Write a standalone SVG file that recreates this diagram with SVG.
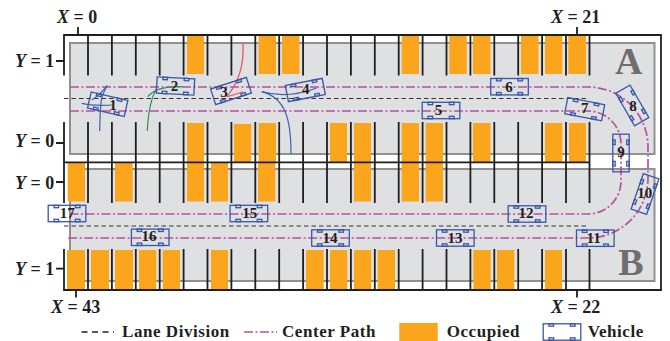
<svg xmlns="http://www.w3.org/2000/svg" width="670" height="341" viewBox="0 0 670 341">
<style>
text{font-family:"Liberation Serif","Times New Roman",serif;font-weight:bold;fill:#1f1f1f}
.lab{font-size:18px}
.lab tspan.i{font-style:italic}
.num{font-size:15px;text-anchor:middle}
.leg{font-size:17px;letter-spacing:.55px}
.big{font-size:38px;fill:#6e6e6e;text-anchor:middle}
.lot{fill:#dfe0e2;stroke:#909090;stroke-width:2}
.occ{fill:#fba51d}
.wall{fill:none;stroke:#1f1f1f;stroke-width:1.8}
.div{fill:none;stroke:#333;stroke-width:1.2;stroke-dasharray:4.500 3}
.ldiv{fill:none;stroke:#222;stroke-width:1.5;stroke-dasharray:6 4.500}
.cp{fill:none;stroke:#b9509f;stroke-width:1.7;stroke-dasharray:9 2.500 2 2.500}
.car{fill:none;stroke:#3a56a8;stroke-width:1.3}
.tr{fill:none;stroke-width:1.2}
</style>
<defs>
<g id="car">
<rect class="car" x="-18.800" y="-8.200" width="37.600" height="16.400"/>
<rect class="car" x="-13" y="-8.200" width="4.600" height="2.400"/>
<rect class="car" x="8.400" y="-8.200" width="4.600" height="2.400"/>
<rect class="car" x="-13" y="5.800" width="4.600" height="2.400"/>
<rect class="car" x="8.400" y="5.800" width="4.600" height="2.400"/>
</g>
</defs>
<g id="lots">
<rect class="lot" x="70" y="43" width="584.500" height="111"/>
<rect class="lot" x="70" y="169" width="584.500" height="112"/>
</g>
<g id="occupied" class="occ">
<rect x="187" y="35" width="17" height="39"/><rect x="258.500" y="35" width="17.500" height="39"/><rect x="282" y="35" width="17.500" height="39"/><rect x="401.700" y="35" width="17.300" height="39"/><rect x="449.300" y="35" width="17.500" height="39"/><rect x="473" y="35" width="17.500" height="39"/><rect x="521" y="35" width="17.500" height="39"/><rect x="545" y="35" width="17.300" height="39"/><rect x="568.300" y="35" width="17.700" height="39"/>
<rect x="187" y="123" width="17" height="39"/><rect x="234" y="124" width="17.300" height="38"/><rect x="258.500" y="123" width="17.500" height="39"/><rect x="330" y="123" width="17" height="39"/><rect x="354" y="123" width="17" height="39"/><rect x="401.700" y="123" width="17.300" height="39"/><rect x="425.700" y="123" width="17.300" height="39"/><rect x="473" y="123" width="17.500" height="39"/><rect x="545" y="123" width="17.300" height="39"/><rect x="569" y="123" width="17" height="39"/>
<rect x="67.700" y="162" width="17.300" height="39.500"/><rect x="115" y="162" width="17.700" height="39.500"/><rect x="187" y="162" width="17" height="39.500"/><rect x="211" y="162" width="17" height="39.500"/><rect x="258" y="162" width="17.300" height="39.500"/><rect x="354" y="162" width="17" height="39.500"/><rect x="401.700" y="162" width="17.300" height="39.500"/><rect x="425.700" y="162" width="17.300" height="39.500"/>
<rect x="67" y="250" width="18" height="39"/><rect x="91" y="250" width="18" height="39"/><rect x="115" y="250" width="18" height="39"/><rect x="139" y="250" width="17.300" height="39"/><rect x="162.700" y="250" width="17.300" height="39"/><rect x="211" y="250" width="17" height="39"/><rect x="306" y="250" width="17.700" height="39"/><rect x="330" y="250" width="17.300" height="39"/><rect x="354" y="250" width="17.300" height="39"/><rect x="377.700" y="250" width="17.300" height="39"/><rect x="473.300" y="250" width="17.400" height="39"/><rect x="497" y="250" width="17.300" height="39"/><rect x="545" y="250" width="17" height="39"/>
</g>
<g id="walls">
<path class="wall" d="M64 75.500V35H661V290H64V249M64 122V203M64 162.300H590M78 27V35M577 27V35M76 290V297.500M577 290V297.500M56 61H64M56 143H64M56 182H64M56 268.700H64"/>
<path class="wall" d="M88 35V75.500M88 122V203M88 249V290M111.900 35V75.500M111.900 122V203M111.900 249V290M135.800 35V75.500M135.800 122V203M135.800 249V290M159.700 35V75.500M159.700 122V203M159.700 249V290M183.600 35V75.500M183.600 122V203M183.600 249V290M207.500 35V75.500M207.500 122V203M207.500 249V290M231.400 35V75.500M231.400 122V203M231.400 249V290M255.300 35V75.500M255.300 122V203M255.300 249V290M279.200 35V75.500M279.200 122V203M279.200 249V290M303.100 35V75.500M303.100 122V203M303.100 249V290M327 35V75.500M327 122V203M327 249V290M350.900 35V75.500M350.900 122V203M350.900 249V290M374.800 35V75.500M374.800 122V203M374.800 249V290M398.700 35V75.500M398.700 122V203M398.700 249V290M422.600 35V75.500M422.600 122V203M422.600 249V290M446.500 35V75.500M446.500 122V203M446.500 249V290M470.400 35V75.500M470.400 122V203M470.400 249V290M494.300 35V75.500M494.300 122V203M494.300 249V290M518.200 35V75.500M518.200 122V203M518.200 249V290M542.100 35V75.500M542.100 122V203M542.100 249V290M566 35V75.500M566 122V203M566 249V290M589.500 35V75.500M589.500 122V203M589.500 249V290"/>
</g>
<g id="connectors">
<path class="div" d="M64 98.500H589"/>
<path class="div" d="M64 226H589"/>
<path class="cp" d="M70 87H588A60 60 0 0 1 648 147V178A60 60 0 0 1 588 238H66"/>
<path class="cp" d="M70 111H588A33 33 0 0 1 621 144V181A33 33 0 0 1 588 214H67"/>
<g class="tr" stroke="#3f63ae">
<path d="M99.700 131C100 118 100 105 102 97C103.500 92 105.500 89 107.300 85.700"/>
<path d="M107.300 85.700C103 91 98 96 92 100"/>
<path d="M81.700 103.300C92 106 102 105.500 111.700 105"/>
</g>
<g class="tr" stroke="#2f8f5b">
<path d="M147.300 131C148 115 150 100 156.700 88.300"/>
<path d="M147.700 96.700C154 89 165 86 182.700 86.700"/>
</g>
<g class="tr" stroke="#e8505f">
<path d="M243 43.300C244 62 241 80 226.700 96.700"/>
<path d="M226.700 96.700C232 95.500 238 93.500 243.300 91.700"/>
</g>
<g class="tr" stroke="#3f63ae">
<path d="M291 154C291 120 286 98 261.700 91.700"/>
<path d="M261.700 91.700C280 97 298 95 316.700 88"/>
</g>
</g>
<g id="v1"><use href="#car" transform="translate(107.700 104.200) rotate(13)"/><text class="num" x="113" y="110">1</text></g>
<g id="v2"><use href="#car" transform="translate(175.500 86) rotate(3)"/><text class="num" x="174.500" y="91">2</text></g>
<g id="v3"><use href="#car" transform="translate(231 91) rotate(-18)"/><text class="num" x="224" y="97">3</text></g>
<g id="v4"><use href="#car" transform="translate(305.300 90) rotate(-11)"/><text class="num" x="305.700" y="94">4</text></g>
<g id="v5"><use href="#car" transform="translate(441 110.500)"/><text class="num" x="438.500" y="115">5</text></g>
<g id="v6"><use href="#car" transform="translate(509.500 86.700)"/><text class="num" x="509" y="91.700">6</text></g>
<g id="v7"><use href="#car" transform="translate(584.700 109.200) rotate(11)"/><text class="num" x="584.700" y="113">7</text></g>
<g id="v8"><use href="#car" transform="translate(632.300 105.400) rotate(60)"/><text class="num" x="633" y="110.700">8</text></g>
<g id="v9"><use href="#car" transform="translate(621 153) rotate(90)"/><text class="num" x="621" y="157">9</text></g>
<g id="v10"><use href="#car" transform="translate(645 194) rotate(-71)"/><text class="num" x="644.700" y="197.700">10</text></g>
<g id="v11"><use href="#car" transform="translate(595.300 238.200)"/><text class="num" x="593.700" y="242.700">11</text></g>
<g id="v12"><use href="#car" transform="translate(527 214)"/><text class="num" x="526" y="218.300">12</text></g>
<g id="v13"><use href="#car" transform="translate(455.300 238)"/><text class="num" x="455" y="242.700">13</text></g>
<g id="v14"><use href="#car" transform="translate(330.500 238)"/><text class="num" x="330" y="243.300">14</text></g>
<g id="v15"><use href="#car" transform="translate(248.900 213.500)"/><text class="num" x="249.700" y="218.300">15</text></g>
<g id="v16"><use href="#car" transform="translate(150.200 237.300)"/><text class="num" x="149" y="241.300">16</text></g>
<g id="v17"><use href="#car" transform="translate(67 213.500)"/><text class="num" x="67.300" y="218.300">17</text></g>
<g id="labels">
<text class="big" x="628.800" y="74">A</text>
<text class="big" x="631" y="275">B</text>
<text class="lab" x="57" y="22.700"><tspan class="i">X</tspan> = 0</text>
<text class="lab" x="551" y="22.700"><tspan class="i">X</tspan> = 21</text>
<text class="lab" x="51" y="312.700"><tspan class="i">X</tspan> = 43</text>
<text class="lab" x="551" y="313"><tspan class="i">X</tspan> = 22</text>
<text class="lab" x="15" y="67"><tspan class="i">Y</tspan> = 1</text>
<text class="lab" x="15" y="146.700"><tspan class="i">Y</tspan> = 0</text>
<text class="lab" x="15" y="189"><tspan class="i">Y</tspan> = 0</text>
<text class="lab" x="15" y="275"><tspan class="i">Y</tspan> = 1</text>
</g>
<g id="legend">
<path class="ldiv" d="M81.500 332H114"/>
<text class="leg" x="122" y="337">Lane Division</text>
<path class="cp" d="M244 332H277"/>
<text class="leg" x="282" y="337">Center Path</text>
<rect class="occ" x="399.300" y="323" width="38.400" height="18"/>
<text class="leg" x="446.700" y="337">Occupied</text>
<use href="#car" transform="translate(562 332)"/>
<text class="leg" x="587.700" y="337">Vehicle</text>
</g>
</svg>
